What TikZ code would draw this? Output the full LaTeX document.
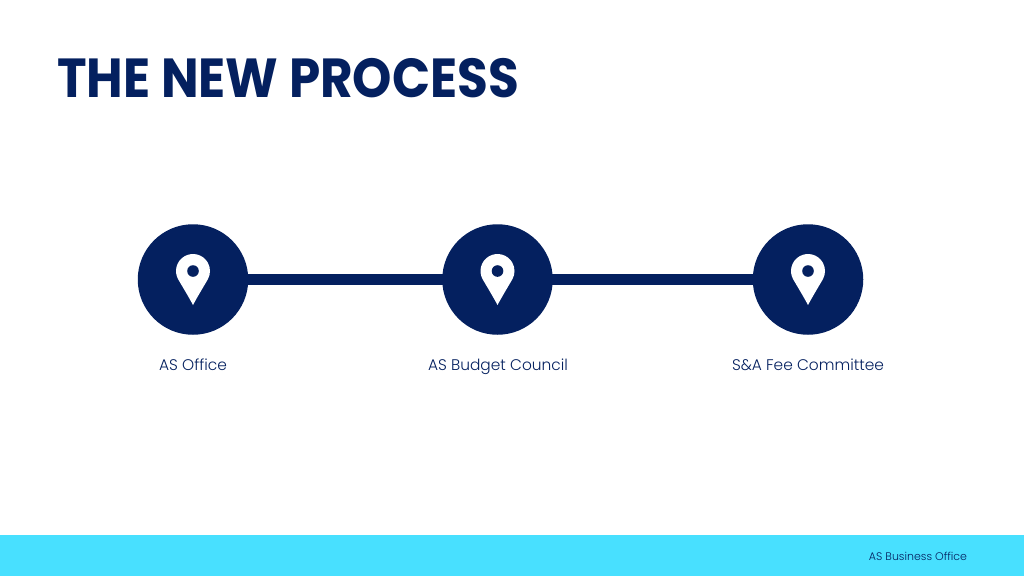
\documentclass[tikz,border=0pt]{standalone}
\usepackage{fontspec}
\setmainfont{Poppins}
\newfontfamily\labelfont{Poppins Light}
\definecolor{navy}{HTML}{04205F}
\definecolor{sky}{HTML}{48E0FF}
\tikzset{
  x=1pt,y=-1pt,
  stopdisc/.style={circle,fill=navy,draw=none,minimum size=110.5pt,inner sep=0pt},
  linkline/.style={draw=navy,line width=10.5pt,shorten <=-2pt,shorten >=-2pt},
  steplabel/.style={text=navy,font=\labelfont\fontsize{15.4}{20}\selectfont,anchor=base,inner sep=0pt},
  pinmark/.pic={
    \fill[white] (-14.72,0) arc[start angle=150,end angle=390,radius=17]
      .. controls (10,8) and (4,18) .. (0,25.5)
      .. controls (-4,18) and (-10,8) .. (-14.72,0) -- cycle;
    \fill[navy] (0,-8.5) circle[radius=5.8];
  }
}
\begin{document}
\begin{tikzpicture}
\useasboundingbox (0,0) rectangle (1024,576);
\fill[white] (0,0) rectangle (1024,576);
\fill[sky] (0,534.5) rectangle (1024,576);
\node[text=navy,anchor=base west,inner sep=0pt,font=\fontsize{55}{60}\selectfont\bfseries] (title) at (57,97) {\scalebox{0.91}[1]{THE NEW PROCESS}};
\node[stopdisc] (a) at (193,279.5) {};
\node[stopdisc] (b) at (497.5,279.5) {};
\node[stopdisc] (c) at (808,279.5) {};
\draw[linkline] (a) -- (b);
\draw[linkline] (b) -- (c);
\pic at (a) {pinmark};
\pic at (b) {pinmark};
\pic at (c) {pinmark};
\node[steplabel] (la) at (193,370) {AS Office};
\node[steplabel] (lb) at (498,370) {AS Budget Council};
\node[steplabel] (lc) at (808,370) {S\&A Fee Committee};
\node[text=navy,anchor=base,inner sep=0pt,font=\labelfont\fontsize{11}{14}\selectfont] (foot) at (918,560) {AS Business Office};
\end{tikzpicture}
\end{document}
